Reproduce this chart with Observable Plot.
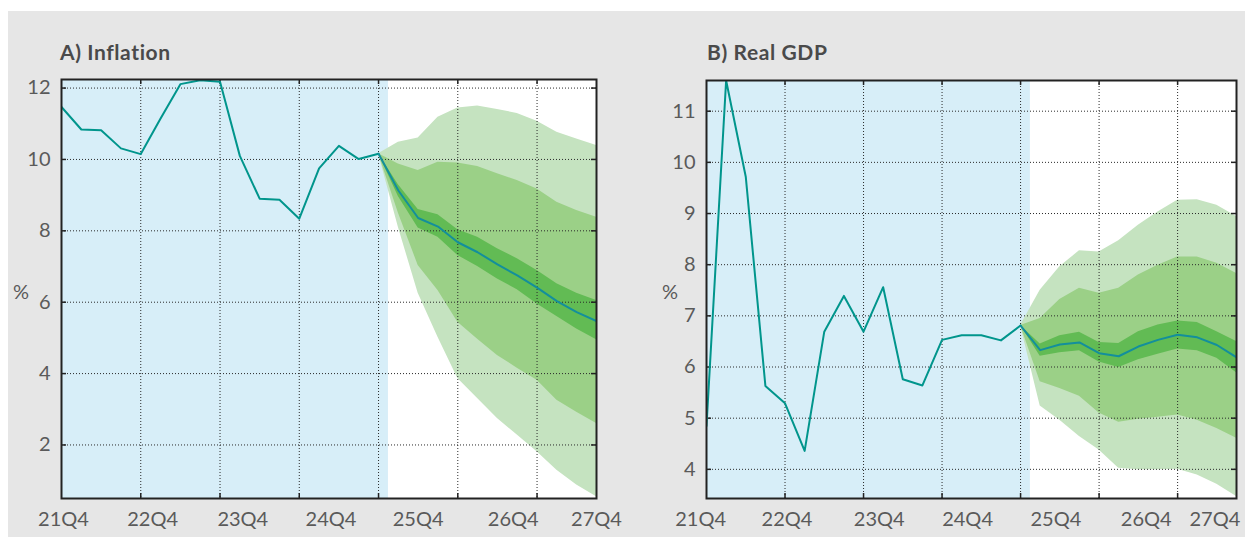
<!DOCTYPE html>
<html>
<head>
<meta charset="utf-8">
<script src="https://cdn.jsdelivr.net/npm/d3@7"></script>
<script src="https://cdn.jsdelivr.net/npm/@observablehq/plot@0.6"></script>
<style>
  html, body { margin: 0; padding: 0; background: #fff; width: 1245px; height: 537px; overflow: hidden; font-family: Lato, "Open Sans", sans-serif; }
  #bg { position: absolute; left: 8px; top: 11px; width: 1237px; height: 526px; background: #e6e6e6; }
  .panel { position: absolute; top: 0; }
  .title { position: absolute; top: 41px; font-size: 21px; line-height: 21px; font-weight: 700; letter-spacing: 0.6px; color: #4a4a4a; }
  .unit { position: absolute; top: 281px; font-size: 20px; line-height: 20px; color: #5a5a5a; }
</style>
</head>
<body>
<div id="bg"></div>
<div id="A" class="panel" style="left:0px"></div>
<div id="B" class="panel" style="left:640px"></div>
<div class="title" style="left:60px">A) Inflation</div>
<div class="title" style="left:707px">B) Real GDP</div>
<div class="unit" style="left:13px">%</div>
<div class="unit" style="left:662px">%</div>
<script>
// ---- data ----
const xLabels = ["21Q4", "22Q4", "23Q4", "24Q4", "25Q4", "26Q4", "27Q4"];
const xLabelPosA = [0.1, 4.6, 9.15, 13.6, 18.0, 22.8, 27.0];
const xLabelPosB = [-0.3, 4.1, 8.8, 13.3, 17.8, 22.4, 25.9];
const gridX = [4, 8, 12, 16, 20, 24];
const histEnd = 16.5;
const projStart = 16;

const yTicksA = [2, 4, 6, 8, 10, 12];
const yTicksB = [4, 5, 6, 7, 8, 9, 10, 11];

// A) Inflation
const histA = [11.47, 10.84, 10.82, 10.31, 10.15, 11.15, 12.11, 12.22, 12.18, 10.1, 8.9, 8.87, 8.34, 9.75, 10.38, 10.01, 10.16];
const medA = [10.16, 9.13, 8.36, 8.12, 7.68, 7.4, 7.06, 6.75, 6.41, 6.03, 5.72, 5.47];
const darkHiA = [10.16, 9.29, 8.6, 8.45, 8.03, 7.82, 7.5, 7.22, 6.89, 6.52, 6.25, 6.05];
const darkLoA = [10.16, 8.96, 8.08, 7.82, 7.31, 7.0, 6.65, 6.35, 5.95, 5.6, 5.25, 4.95];
const midHiA = [10.16, 9.87, 9.69, 9.92, 9.9, 9.8, 9.6, 9.41, 9.17, 8.8, 8.57, 8.38];
const midLoA = [10.16, 8.5, 7.03, 6.33, 5.44, 4.96, 4.51, 4.15, 3.81, 3.25, 2.92, 2.6];
const lightHiA = [10.16, 10.48, 10.6, 11.18, 11.44, 11.5, 11.4, 11.29, 11.07, 10.76, 10.57, 10.39];
const lightLoA = [10.16, 8.1, 6.25, 5.02, 3.86, 3.3, 2.74, 2.28, 1.81, 1.29, 0.88, 0.55];

// B) Real GDP
const histB = [4.85, 11.6, 9.72, 5.63, 5.29, 4.36, 6.69, 7.39, 6.69, 7.56, 5.76, 5.64, 6.53, 6.62, 6.62, 6.52, 6.81];
const medB = [6.81, 6.33, 6.44, 6.48, 6.27, 6.21, 6.4, 6.53, 6.63, 6.58, 6.43, 6.19];
const darkHiB = [6.81, 6.45, 6.61, 6.68, 6.48, 6.46, 6.69, 6.82, 6.9, 6.87, 6.69, 6.5];
const darkLoB = [6.81, 6.21, 6.28, 6.32, 6.1, 5.99, 6.14, 6.25, 6.35, 6.32, 6.17, 5.89];
const midHiB = [6.81, 6.95, 7.32, 7.54, 7.44, 7.54, 7.8, 7.99, 8.15, 8.15, 8.03, 7.83];
const midLoB = [6.81, 5.71, 5.58, 5.43, 5.1, 4.92, 4.98, 5.02, 5.06, 4.96, 4.8, 4.61];
const lightHiB = [6.81, 7.5, 7.96, 8.27, 8.25, 8.47, 8.77, 9.03, 9.26, 9.27, 9.16, 8.94];
const lightLoB = [6.81, 5.24, 4.96, 4.64, 4.38, 4.02, 3.99, 3.99, 4.0, 3.89, 3.71, 3.47];

// ---- styles ----
const C = {
  hist: "#d7eef8", light: "#c5e3c0", mid: "#9bd087", dark: "#62bb54",
  line: "#00958c", projLine: "#138f9c", grid: "#2a2a2a", frame: "#222", text: "#5a5a5a"
};

function panel(o) {
  const H = 537, mb = 39;
  const innerH = H - o.mt - mb;
  const innerW = o.width - o.ml - o.mr;
  const hist = o.hist.map((v, i) => ({q: i, v}));
  const proj = o.med.map((v, i) => ({
    q: projStart + i, med: v,
    lH: o.lightHi[i], lL: o.lightLo[i],
    mH: o.midHi[i], mL: o.midLo[i],
    dH: o.darkHi[i], dL: o.darkLo[i]
  }));
  return Plot.plot({
    width: o.width, height: H,
    marginLeft: o.ml, marginRight: o.mr, marginTop: o.mt, marginBottom: mb,
    style: {background: "transparent", fontFamily: "Lato, 'Open Sans', sans-serif", overflow: "visible"},
    x: {domain: [0, 27], axis: null},
    y: {domain: o.yDomain, axis: null},
    marks: [
      Plot.frame({fill: "white", stroke: null}),
      Plot.rect([{x1: 0, x2: histEnd}], {x1: "x1", x2: "x2", y1: o.yDomain[0], y2: o.yDomain[1], fill: C.hist}),
      Plot.areaY(proj, {x: "q", y1: "lL", y2: "lH", fill: C.light}),
      Plot.areaY(proj, {x: "q", y1: "mL", y2: "mH", fill: C.mid}),
      Plot.areaY(proj, {x: "q", y1: "dL", y2: "dH", fill: C.dark}),
      Plot.ruleX(gridX, {stroke: C.grid, strokeWidth: 1, strokeDasharray: "1,2"}),
      Plot.ruleY(o.yTicks, {stroke: C.grid, strokeWidth: 1, strokeDasharray: "1,2"}),
      Plot.ruleX(gridX, {stroke: C.frame, strokeWidth: 1.5, insetTop: innerH - 5}),
      Plot.ruleX(gridX, {stroke: C.frame, strokeWidth: 1.5, insetBottom: innerH - 5}),
      Plot.ruleY(o.yTicks, {stroke: C.frame, strokeWidth: 1.5, insetRight: innerW - 5}),
      Plot.ruleY(o.yTicks, {stroke: C.frame, strokeWidth: 1.5, insetLeft: innerW - 5}),
      Plot.line(hist, {x: "q", y: "v", stroke: C.line, strokeWidth: 2, clip: true}),
      Plot.line(proj, {x: "q", y: "med", stroke: C.projLine, strokeWidth: 2, clip: true}),
      Plot.frame({stroke: C.frame, strokeWidth: 2}),
      Plot.axisX(o.labelPos, {
        tickFormat: d => xLabels[o.labelPos.indexOf(d)],
        tickSize: 0, tickPadding: 13, fontSize: 20, fill: C.text, label: null
      }),
      Plot.axisY(o.yTicks, {tickFormat: d => String(d), tickSize: 0, tickPadding: 11, fontSize: 20, fill: C.text, label: null})
    ]
  });
}

document.getElementById("A").append(panel({
  width: 640, ml: 61, mr: 44, mt: 79,
  yDomain: [0.5, 12.24], yTicks: yTicksA, labelPos: xLabelPosA,
  hist: histA, med: medA, darkHi: darkHiA, darkLo: darkLoA,
  midHi: midHiA, midLo: midLoA, lightHi: lightHiA, lightLo: lightLoA
}));
document.getElementById("B").append(panel({
  width: 605, ml: 66, mr: 9, mt: 80,
  yDomain: [3.43, 11.6], yTicks: yTicksB, labelPos: xLabelPosB,
  hist: histB, med: medB, darkHi: darkHiB, darkLo: darkLoB,
  midHi: midHiB, midLo: midLoB, lightHi: lightHiB, lightLo: lightLoB
}));
</script>
</body>
</html>
